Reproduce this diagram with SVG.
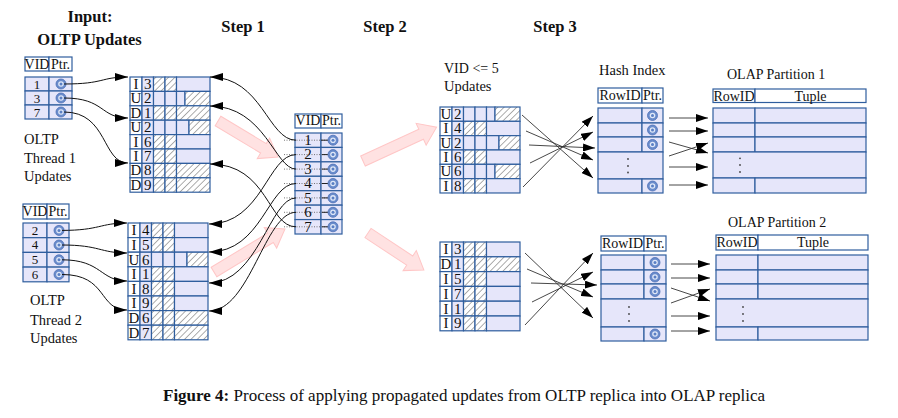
<svg xmlns="http://www.w3.org/2000/svg" width="898" height="418" viewBox="0 0 898 418">
<style>
.c{fill:#e6e6fa;stroke:#2f5e9e;stroke-width:1.2}
.w{fill:#fff;stroke:#2f5e9e;stroke-width:1.2}
.h{fill:url(#hatch);stroke:#2f5e9e;stroke-width:1.2}
text{font-family:"Liberation Serif","Times New Roman",serif;fill:#111}
.t{font-size:15px;text-anchor:middle}
.n{font-size:13px;text-anchor:middle}
.s{font-size:14px;text-anchor:middle}
.l{font-size:14.5px}
.b{font-weight:bold;font-size:16.5px;text-anchor:middle}
.st{font-weight:bold;font-size:16.5px;text-anchor:middle}
.cap{font-family:"Liberation Serif",serif;font-size:17px}
.con{fill:none;stroke:#111;stroke-width:1;marker-end:url(#ah)}
.ln{fill:none;stroke:#333;stroke-width:0.9;marker-end:url(#ah2)}
.pink{fill:#ffe2e2;stroke:#ffc6c6;stroke-width:1}
.dt{stroke:#555;stroke-width:0.8;stroke-dasharray:1 1.5}
.dd{fill:#444}
</style>
<defs>
<pattern id="hatch" patternUnits="userSpaceOnUse" width="4.5" height="4.5" patternTransform="rotate(45)">
<rect width="4.5" height="4.5" fill="#fff"/>
<line x1="0" y1="0" x2="0" y2="4.5" stroke="#333" stroke-width="0.8"/>
</pattern>
<marker id="ah" viewBox="0 0 13 8" refX="13" refY="4" markerWidth="13" markerHeight="8" markerUnits="userSpaceOnUse" orient="auto">
<path d="M0,0 L13,4 L0,8 Z" fill="#000"/>
</marker>
<marker id="ah2" viewBox="0 0 12 8" refX="12" refY="4" markerWidth="12" markerHeight="8" markerUnits="userSpaceOnUse" orient="auto">
<path d="M0,0 L12,4 L0,8 Z" fill="#000"/>
</marker>
<g id="ptr"><circle r="5" fill="#6a8ccc" stroke="#4d70b5" stroke-width="0.8"/><circle r="2.8" fill="#dfe7f7"/><circle r="1.5" fill="#5a7fc4"/></g>
<g id="rI"><rect class="w" x="0" width="12" height="14.5"/><rect class="c" x="12" width="11.5" height="14.5"/><rect class="h" x="23.5" width="11.5" height="14.5"/><rect class="h" x="35" width="11.5" height="14.5"/><rect class="c" x="46.5" width="33.5" height="14.5"/></g>
<g id="rD"><rect class="w" x="0" width="12" height="14.5"/><rect class="c" x="12" width="11.5" height="14.5"/><rect class="h" x="23.5" width="11.5" height="14.5"/><rect class="h" x="35" width="11.5" height="14.5"/><rect class="h" x="46.5" width="33.5" height="14.5"/></g>
<g id="rU55"><rect class="w" x="0" width="12" height="14.5"/><rect class="c" x="12" width="11.5" height="14.5"/><rect class="c" x="23.5" width="11.5" height="14.5"/><rect class="c" x="35" width="11.5" height="14.5"/><rect class="c" x="46.5" width="8.5" height="14.5"/><rect class="h" x="55" width="25" height="14.5"/></g>
<g id="rU59"><rect class="w" x="0" width="12" height="14.5"/><rect class="c" x="12" width="11.5" height="14.5"/><rect class="c" x="23.5" width="11.5" height="14.5"/><rect class="c" x="35" width="11.5" height="14.5"/><rect class="c" x="46.5" width="12.5" height="14.5"/><rect class="h" x="59" width="21" height="14.5"/></g>
</defs>

<g id="titles">
<text class="b" x="90" y="22">Input:</text>
<text class="b" x="89.5" y="45">OLTP Updates</text>
<text class="st" x="243" y="32">Step 1</text>
<text class="st" x="385" y="32">Step 2</text>
<text class="st" x="555" y="32">Step 3</text>
<text class="l" x="24" y="144">OLTP</text>
<text class="l" x="24" y="163">Thread 1</text>
<text class="l" x="24" y="180.5">Updates</text>
<text class="l" x="30" y="305">OLTP</text>
<text class="l" x="30" y="324.5">Thread 2</text>
<text class="l" x="30" y="343">Updates</text>
<text class="l" x="444" y="73" style="font-size:14px">VID &lt;= 5</text>
<text class="l" x="444" y="91">Updates</text>
<text class="l" x="599" y="75">Hash Index</text>
<text class="l" x="727" y="79" style="font-size:14px">OLAP Partition 1</text>
<text class="l" x="728" y="227" style="font-size:14px">OLAP Partition 2</text>
</g>

<g id="pink-arrows">
<path class="pink" transform="translate(218,121) rotate(31)" d="M0,-5.5 H53 V-12 L70,0 L53,12 V5.5 H0 Z"/>
<path class="pink" transform="translate(214,272) rotate(-31.2)" d="M0,-5.5 H66 V-12 L83,0 L66,12 V5.5 H0 Z"/>
<path class="pink" transform="translate(363,161) rotate(-24.7)" d="M0,-5.5 H64 V-12 L81,0 L64,12 V5.5 H0 Z"/>
<path class="pink" transform="translate(368,233) rotate(33.5)" d="M0,-5.5 H50 V-12 L67,0 L50,12 V5.5 H0 Z"/>
</g>

<g id="input1">
<rect class="w" x="25" y="57" width="24" height="14"/><rect class="w" x="49" y="57" width="23" height="14"/>
<text class="s" x="37" y="68.5">VID</text><text class="s" x="60.5" y="68.5">Ptr.</text>
<rect class="c" x="25" y="77" width="24" height="14"/><rect class="c" x="49" y="77" width="23" height="14"/>
<rect class="c" x="25" y="91" width="24" height="14"/><rect class="c" x="49" y="91" width="23" height="14"/>
<rect class="c" x="25" y="105" width="24" height="14"/><rect class="c" x="49" y="105" width="23" height="14"/>
<text class="n" x="37" y="88.5">1</text><text class="n" x="37" y="102.5">3</text><text class="n" x="37" y="116.5">7</text>
<use href="#ptr" x="61" y="84"/><use href="#ptr" x="61" y="98"/><use href="#ptr" x="61" y="112"/>
</g>

<g id="input2">
<rect class="w" x="23" y="204" width="24" height="15"/><rect class="w" x="47" y="204" width="22" height="15"/>
<text class="s" x="35" y="215.5">VID</text><text class="s" x="58" y="215.5">Ptr.</text>
<rect class="c" x="23" y="223" width="24" height="14.7"/><rect class="c" x="47" y="223" width="22" height="14.7"/>
<rect class="c" x="23" y="237.7" width="24" height="14.7"/><rect class="c" x="47" y="237.7" width="22" height="14.7"/>
<rect class="c" x="23" y="252.4" width="24" height="14.7"/><rect class="c" x="47" y="252.4" width="22" height="14.7"/>
<rect class="c" x="23" y="267.1" width="24" height="14.7"/><rect class="c" x="47" y="267.1" width="22" height="14.7"/>
<text class="n" x="35" y="234.6">2</text><text class="n" x="35" y="249.3">4</text><text class="n" x="35" y="264">5</text><text class="n" x="35" y="278.7">6</text>
<use href="#ptr" x="59" y="230.4"/><use href="#ptr" x="59" y="245"/><use href="#ptr" x="59" y="259.8"/><use href="#ptr" x="59" y="274.5"/>
</g>

<g id="step1a">
<g transform="translate(130,77) scale(1,0.9931)">
<use href="#rI" y="0"/><use href="#rU55" y="14.5"/><use href="#rD" y="29"/><use href="#rU59" y="43.5"/>
<use href="#rI" y="58"/><use href="#rI" y="72.5"/><use href="#rD" y="87"/><use href="#rD" y="101.5"/>
</g>
<text class="t" x="136" y="89">I</text><text class="t" x="147.75" y="89">3</text>
<text class="t" x="136" y="103.4">U</text><text class="t" x="147.75" y="103.4">2</text>
<text class="t" x="136" y="117.8">D</text><text class="t" x="147.75" y="117.8">1</text>
<text class="t" x="136" y="132.2">U</text><text class="t" x="147.75" y="132.2">2</text>
<text class="t" x="136" y="146.6">I</text><text class="t" x="147.75" y="146.6">6</text>
<text class="t" x="136" y="161">I</text><text class="t" x="147.75" y="161">7</text>
<text class="t" x="136" y="175.4">D</text><text class="t" x="147.75" y="175.4">8</text>
<text class="t" x="136" y="189.8">D</text><text class="t" x="147.75" y="189.8">9</text>
</g>

<g id="step1b">
<g transform="translate(128,223) scale(1,1.0069)">
<use href="#rI" y="0"/><use href="#rI" y="14.5"/><use href="#rU59" y="29"/><use href="#rI" y="43.5"/>
<use href="#rI" y="58"/><use href="#rI" y="72.5"/><use href="#rD" y="87"/><use href="#rD" y="101.5"/>
</g>
<text class="t" x="134" y="235.3">I</text><text class="t" x="145.75" y="235.3">4</text>
<text class="t" x="134" y="249.9">I</text><text class="t" x="145.75" y="249.9">5</text>
<text class="t" x="134" y="264.5">U</text><text class="t" x="145.75" y="264.5">6</text>
<text class="t" x="134" y="279.1">I</text><text class="t" x="145.75" y="279.1">1</text>
<text class="t" x="134" y="293.7">I</text><text class="t" x="145.75" y="293.7">8</text>
<text class="t" x="134" y="308.3">I</text><text class="t" x="145.75" y="308.3">9</text>
<text class="t" x="134" y="322.9">D</text><text class="t" x="145.75" y="322.9">6</text>
<text class="t" x="134" y="337.5">D</text><text class="t" x="145.75" y="337.5">7</text>
</g>

<g id="vidtable">
<rect class="w" x="295" y="114" width="26" height="14"/><rect class="w" x="321" y="114" width="21" height="14"/>
<text class="s" x="308" y="125">VID</text><text class="s" x="331.5" y="125">Ptr.</text>
<rect class="c" x="295" y="133" width="26" height="14.43"/><rect class="c" x="321" y="133" width="21" height="14.43"/>
<rect class="c" x="295" y="147.43" width="26" height="14.43"/><rect class="c" x="321" y="147.43" width="21" height="14.43"/>
<rect class="c" x="295" y="161.86" width="26" height="14.43"/><rect class="c" x="321" y="161.86" width="21" height="14.43"/>
<rect class="c" x="295" y="176.29" width="26" height="14.43"/><rect class="c" x="321" y="176.29" width="21" height="14.43"/>
<rect class="c" x="295" y="190.72" width="26" height="14.43"/><rect class="c" x="321" y="190.72" width="21" height="14.43"/>
<rect class="c" x="295" y="205.15" width="26" height="14.43"/><rect class="c" x="321" y="205.15" width="21" height="14.43"/>
<rect class="c" x="295" y="219.58" width="26" height="14.43"/><rect class="c" x="321" y="219.58" width="21" height="14.43"/>
<line class="dt" x1="284" y1="140.2" x2="328" y2="140.2"/>
<line class="dt" x1="284" y1="154.6" x2="328" y2="154.6"/>
<line class="dt" x1="284" y1="169.1" x2="328" y2="169.1"/>
<line class="dt" x1="284" y1="183.5" x2="328" y2="183.5"/>
<line class="dt" x1="284" y1="197.9" x2="328" y2="197.9"/>
<line class="dt" x1="284" y1="212.3" x2="328" y2="212.3"/>
<line class="dt" x1="284" y1="226.8" x2="328" y2="226.8"/>
<path d="M321,140.2 H328 M322,154.6 H328 M322,169.1 H328 M322,183.5 H328 M322,197.9 H328 M322,212.3 H328 M322,226.8 H328" stroke="#222" stroke-width="1"/>
<text class="t" x="308" y="145">1</text><text class="t" x="308" y="159.4">2</text><text class="t" x="308" y="173.9">3</text>
<text class="t" x="308" y="188.3">4</text><text class="t" x="308" y="202.7">5</text><text class="t" x="308" y="217.1">6</text><text class="t" x="308" y="231.6">7</text>
<use href="#ptr" x="333" y="140.2"/><use href="#ptr" x="333" y="154.6"/><use href="#ptr" x="333" y="169.1"/>
<use href="#ptr" x="333" y="183.5"/><use href="#ptr" x="333" y="197.9"/><use href="#ptr" x="333" y="212.3"/><use href="#ptr" x="333" y="226.8"/>
</g>

<g id="step3a">
<g transform="translate(440,107) scale(1,0.9883)">
<use href="#rU55" y="0"/><use href="#rI" y="14.5"/><use href="#rU59" y="29"/><use href="#rI" y="43.5"/><use href="#rU55" y="58"/><use href="#rI" y="72.5"/>
</g>
<text class="t" x="446" y="119">U</text><text class="t" x="457.75" y="119">2</text>
<text class="t" x="446" y="133.3">I</text><text class="t" x="457.75" y="133.3">4</text>
<text class="t" x="446" y="147.7">U</text><text class="t" x="457.75" y="147.7">2</text>
<text class="t" x="446" y="162">I</text><text class="t" x="457.75" y="162">6</text>
<text class="t" x="446" y="176.3">U</text><text class="t" x="457.75" y="176.3">6</text>
<text class="t" x="446" y="190.7">I</text><text class="t" x="457.75" y="190.7">8</text>
</g>

<g id="step3b">
<g transform="translate(440,242) scale(1,1.0207)">
<use href="#rI" y="0"/><use href="#rD" y="14.5"/><use href="#rI" y="29"/><use href="#rI" y="43.5"/><use href="#rI" y="58"/><use href="#rI" y="72.5"/>
</g>
<text class="t" x="446" y="254.3">I</text><text class="t" x="457.75" y="254.3">3</text>
<text class="t" x="446" y="269.1">D</text><text class="t" x="457.75" y="269.1">1</text>
<text class="t" x="446" y="283.9">I</text><text class="t" x="457.75" y="283.9">5</text>
<text class="t" x="446" y="298.7">I</text><text class="t" x="457.75" y="298.7">7</text>
<text class="t" x="446" y="313.5">I</text><text class="t" x="457.75" y="313.5">1</text>
<text class="t" x="446" y="328.3">I</text><text class="t" x="457.75" y="328.3">9</text>
</g>

<g id="hash1">
<rect class="w" x="598" y="88" width="44" height="15"/><rect class="w" x="642" y="88" width="21" height="15"/>
<text class="s" x="620" y="100">RowID</text><text class="s" x="652.5" y="100">Ptr.</text>
<rect class="c" x="598" y="108" width="44" height="15"/><rect class="c" x="642" y="108" width="21" height="15"/>
<rect class="c" x="598" y="123" width="44" height="14"/><rect class="c" x="642" y="123" width="21" height="14"/>
<rect class="c" x="598" y="137" width="44" height="15"/><rect class="c" x="642" y="137" width="21" height="15"/>
<rect class="c" x="598" y="152" width="65" height="27"/>
<rect class="c" x="598" y="179" width="44" height="14"/><rect class="c" x="642" y="179" width="21" height="14"/>
<circle class="dd" cx="628" cy="159" r="0.9"/><circle class="dd" cx="628" cy="166" r="0.9"/><circle class="dd" cx="628" cy="172.5" r="0.9"/>
<use href="#ptr" x="652.5" y="115.5"/><use href="#ptr" x="652.5" y="130"/><use href="#ptr" x="652.5" y="144.5"/><use href="#ptr" x="652.5" y="186"/>
</g>

<g id="hash2">
<rect class="w" x="601" y="236" width="43" height="15"/><rect class="w" x="644" y="236" width="22" height="15"/>
<text class="s" x="622.5" y="248">RowID</text><text class="s" x="655" y="248">Ptr.</text>
<rect class="c" x="601" y="255" width="43" height="15"/><rect class="c" x="644" y="255" width="22" height="15"/>
<rect class="c" x="601" y="270" width="43" height="14"/><rect class="c" x="644" y="270" width="22" height="14"/>
<rect class="c" x="601" y="284" width="43" height="15"/><rect class="c" x="644" y="284" width="22" height="15"/>
<rect class="c" x="601" y="299" width="65" height="28"/>
<rect class="c" x="601" y="327" width="43" height="14"/><rect class="c" x="644" y="327" width="22" height="14"/>
<circle class="dd" cx="629" cy="307" r="0.9"/><circle class="dd" cx="629" cy="314" r="0.9"/><circle class="dd" cx="629" cy="321" r="0.9"/>
<use href="#ptr" x="655" y="262.5"/><use href="#ptr" x="655" y="277"/><use href="#ptr" x="655" y="291.5"/><use href="#ptr" x="655" y="334"/>
</g>

<g id="olap1">
<rect class="w" x="713" y="89" width="42" height="13.5"/><rect class="w" x="755" y="89" width="111" height="13.5"/>
<text class="s" x="734" y="100.5">RowID</text><text class="s" x="810.5" y="100.5">Tuple</text>
<rect class="c" x="713" y="108" width="42" height="15"/><rect class="c" x="755" y="108" width="111" height="15"/>
<rect class="c" x="713" y="123" width="42" height="14"/><rect class="c" x="755" y="123" width="111" height="14"/>
<rect class="c" x="713" y="137" width="42" height="15"/><rect class="c" x="755" y="137" width="111" height="15"/>
<rect class="c" x="713" y="152" width="153" height="26"/>
<rect class="c" x="713" y="178" width="42" height="15"/><rect class="c" x="755" y="178" width="111" height="15"/>
<circle class="dd" cx="740" cy="158.3" r="0.9"/><circle class="dd" cx="740" cy="165" r="0.9"/><circle class="dd" cx="740" cy="172" r="0.9"/>
</g>

<g id="olap2">
<rect class="w" x="716" y="235" width="42" height="15"/><rect class="w" x="758" y="235" width="110" height="15"/>
<text class="s" x="737" y="247">RowID</text><text class="s" x="813" y="247">Tuple</text>
<rect class="c" x="716" y="255" width="42" height="15"/><rect class="c" x="758" y="255" width="110" height="15"/>
<rect class="c" x="716" y="270" width="42" height="14"/><rect class="c" x="758" y="270" width="110" height="14"/>
<rect class="c" x="716" y="284" width="42" height="15"/><rect class="c" x="758" y="284" width="110" height="15"/>
<rect class="c" x="716" y="299" width="152" height="28"/>
<rect class="c" x="716" y="327" width="42" height="13"/><rect class="c" x="758" y="327" width="110" height="13"/>
<circle class="dd" cx="743" cy="307" r="0.9"/><circle class="dd" cx="743" cy="314" r="0.9"/><circle class="dd" cx="743" cy="321" r="0.9"/>
</g>

<g id="connectors">
<path class="con" d="M64,84 C105,84 100,77 128,77"/>
<path class="con" d="M64,98 C105,98 100,118 128,118"/>
<path class="con" d="M64,112 C108,112 102,163 128,163"/>
<path class="con" d="M62,230.4 C100,230.4 100,223 127,223"/>
<path class="con" d="M62,245 C100,245 100,253 127,253"/>
<path class="con" d="M62,259.8 C102,259.8 100,281 127,281"/>
<path class="con" d="M62,274.5 C108,274.5 98,310 127,310"/>
<path class="con" d="M296,140.2 C268,140.2 262,77 210,77"/>
<path class="con" d="M296,169.1 C275,169.1 265,106 210,106"/>
<path class="con" d="M296,226.8 C268,226.8 268,164 210,164"/>
<path class="con" d="M296,154.6 C268,154.6 262,224 209,224"/>
<path class="con" d="M296,183.5 C268,183.5 262,252 209,252"/>
<path class="con" d="M296,197.9 C270,197.9 258,283 209,283"/>
<path class="con" d="M296,212.3 C265,212.3 250,311 209,311"/>
<line class="ln" x1="522" y1="115" x2="593" y2="178"/>
<line class="ln" x1="526" y1="131" x2="593" y2="160"/>
<line class="ln" x1="529" y1="145" x2="595" y2="148"/>
<line class="ln" x1="530" y1="163" x2="593" y2="132"/>
<line class="ln" x1="523" y1="187" x2="593" y2="116"/>
<line class="ln" x1="525" y1="253" x2="593" y2="318"/>
<line class="ln" x1="527" y1="269" x2="593" y2="297"/>
<line class="ln" x1="531" y1="283" x2="597" y2="285"/>
<line class="ln" x1="532" y1="302" x2="593" y2="272"/>
<line class="ln" x1="525" y1="325" x2="593" y2="253"/>
<line class="ln" x1="669" y1="118" x2="708" y2="118"/>
<line class="ln" x1="669" y1="131" x2="708" y2="131"/>
<line class="ln" x1="669" y1="142" x2="708" y2="153"/>
<line class="ln" x1="669" y1="156" x2="708" y2="143"/>
<line class="ln" x1="669" y1="167" x2="708" y2="167"/>
<line class="ln" x1="669" y1="185" x2="708" y2="185"/>
<line class="ln" x1="671" y1="264" x2="710" y2="264"/>
<line class="ln" x1="671" y1="278" x2="710" y2="278"/>
<line class="ln" x1="671" y1="288" x2="710" y2="301"/>
<line class="ln" x1="671" y1="303" x2="710" y2="289"/>
<line class="ln" x1="671" y1="316" x2="710" y2="316"/>
<line class="ln" x1="671" y1="331" x2="710" y2="331"/>
</g>

<text class="cap" x="163" y="401"><tspan font-weight="bold">Figure 4:</tspan> Process of applying propagated updates from OLTP replica into OLAP replica</text>
</svg>
